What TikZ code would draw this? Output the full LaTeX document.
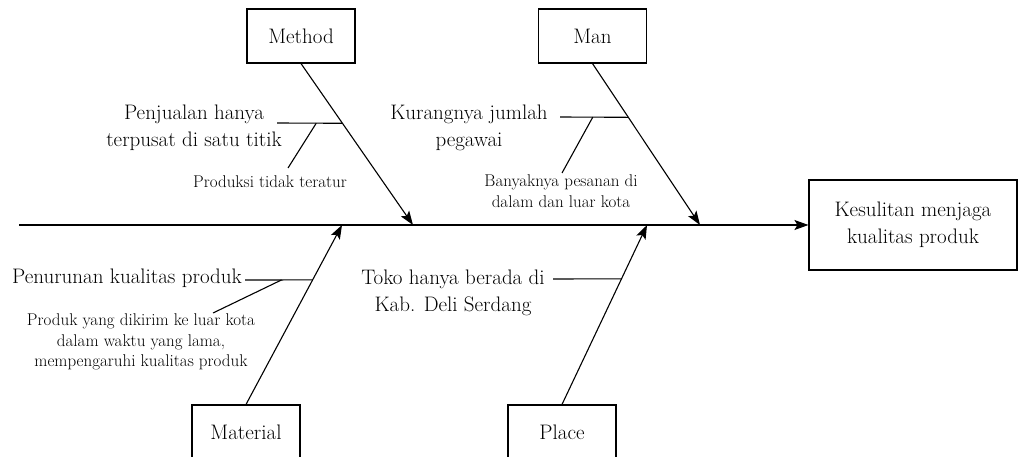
\documentclass[tikz,border=0pt]{standalone}
\usetikzlibrary{arrows.meta,calc}

\tikzset{
  katbox/.style={draw,minimum width=108pt,minimum height=54pt,inner sep=0pt,font=\fontsize{21}{27}\selectfont},
  sebab/.style={align=center,inner sep=0pt,font=\fontsize{21}{27}\selectfont},
  subsebab/.style={align=center,inner sep=0pt,font=\fontsize{17}{20.5}\selectfont},
}

\begin{document}
\begin{tikzpicture}[x=1pt,y=-1pt,line width=1.1pt,>={Stealth[length=14pt,width=10pt,inset=3pt]}]
  \useasboundingbox (0,0) rectangle (1018,457);
  % kepala dan tulang utama
  \node[draw,sebab,minimum width=208pt,minimum height=90pt] (akibat) at (913,225) {Kesulitan menjaga\\kualitas produk};
  \coordinate (ekor) at (19,225);
  \draw[->] (ekor) -- (akibat.west);
  % kategori
  \node[katbox] (method) at (301,36) {Method};
  \node[katbox] (man) at (592.5,36) {Man};
  \node[katbox] (material) at (246,432) {Material};
  \node[katbox] (place) at (562,432) {Place};
  \foreach \k/\x in {method/413,man/700,material/342,place/647}{
    \coordinate (\k-ujung) at (\x,225);
  }
  \draw[->] (method.south) -- (method-ujung);
  \draw[->] (man.south) -- (man-ujung);
  \draw[->] (material.north) -- (material-ujung);
  \draw[->] (place.north) -- (place-ujung);
  % sebab
  \node[sebab] (jual) at (194,128) {Penjualan hanya\\terpusat di satu titik};
  \node[sebab] (pegawai) at (469,128) {Kurangnya jumlah\\pegawai};
  \node[sebab] (turun) at (127,278) {Penurunan kualitas produk};
  \node[sebab] (toko) at (453,293) {Toko hanya berada di\\Kab. Deli Serdang};
  \coordinate (method-j) at ($(method.south)!0.37!(method-ujung)$);
  \coordinate (man-j) at ($(man.south)!0.333!(man-ujung)$);
  \coordinate (material-j) at ($(material.north)!0.694!(material-ujung)$);
  \coordinate (place-j) at ($(place.north)!0.70!(place-ujung)$);
  \coordinate (jual-a) at (277,123);
  \coordinate (pegawai-a) at (560,117);
  \coordinate (turun-a) at (245,280);
  \coordinate (toko-a) at (553,279);
  \draw (jual-a) -- (method-j);
  \draw (pegawai-a) -- (man-j);
  \draw (turun-a) -- (material-j);
  \draw (toko-a) -- (place-j);
  % sub sebab
  \node[subsebab] (produksi) at (270,182) {Produksi tidak teratur};
  \node[subsebab] (pesanan) at (561,191) {Banyaknya pesanan di\\dalam dan luar kota};
  \node[subsebab] (kirim) at (141,342) {Produk yang dikirim ke luar kota\\dalam waktu yang lama,\\mempengaruhi kualitas produk};
  \coordinate (produksi-b) at (288,168);
  \coordinate (pesanan-b) at (562,173);
  \coordinate (kirim-b) at (213,313);
  \draw ($(jual-a)!0.6!(method-j)$) -- (produksi-b);
  \draw ($(pegawai-a)!0.48!(man-j)$) -- (pesanan-b);
  \draw ($(turun-a)!0.54!(material-j)$) -- (kirim-b);
\end{tikzpicture}
\end{document}
